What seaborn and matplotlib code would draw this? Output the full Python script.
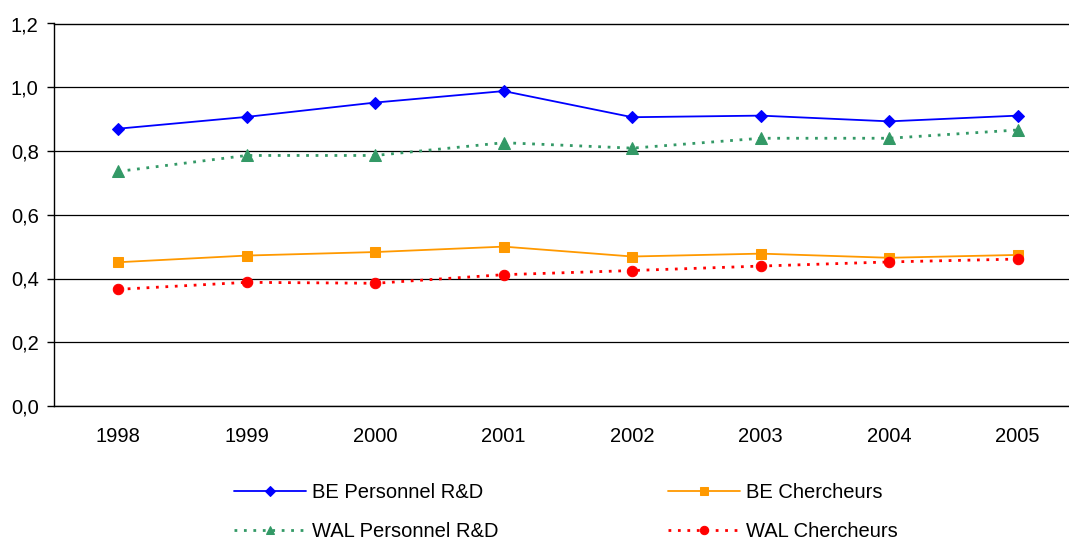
import numpy as np
import pandas as pd
import matplotlib
matplotlib.use("Agg")
import matplotlib.pyplot as plt
import seaborn as sns
from matplotlib.ticker import FuncFormatter, FixedLocator

# data
years = ["1998", "1999", "2000", "2001", "2002", "2003", "2004", "2005"]
be_personnel = [0.870, 0.907, 0.952, 0.988, 0.906, 0.911, 0.893, 0.911]
be_chercheurs = [0.451, 0.472, 0.483, 0.500, 0.469, 0.478, 0.465, 0.474]
wal_personnel = [0.736, 0.786, 0.786, 0.826, 0.809, 0.840, 0.840, 0.866]
wal_chercheurs = [0.366, 0.388, 0.385, 0.412, 0.425, 0.439, 0.452, 0.461]

series = {
    "BE Personnel R&D": be_personnel,
    "BE Chercheurs": be_chercheurs,
    "WAL Personnel R&D": wal_personnel,
    "WAL Chercheurs": wal_chercheurs,
}

rows = []
for name, vals in series.items():
    for i, v in enumerate(vals):
        rows.append({"serie": name, "pos": i, "valeur": v})
df = pd.DataFrame(rows)

sns.set_style("white")
plt.rcParams["font.family"] = ["Liberation Sans", "DejaVu Sans"]
plt.rcParams["font.size"] = 14.5
plt.rcParams["text.color"] = "black"
plt.rcParams["xtick.color"] = "black"
plt.rcParams["ytick.color"] = "black"

styles = {
    "BE Personnel R&D": dict(color="#0000FF", marker="D", ms=6.5, ls="-", lw=1.3),
    "BE Chercheurs": dict(color="#FF9900", marker="s", ms=7, ls="-", lw=1.3),
    "WAL Personnel R&D": dict(color="#339966", marker="^", ms=8, ls=(0, (1, 2.4)), lw=2),
    "WAL Chercheurs": dict(color="#FF0000", marker="o", ms=7.5, ls=(0, (1, 2.4)), lw=2),
}

fig = plt.figure(figsize=(10.69, 5.4), dpi=100)
ax = fig.add_axes([54 / 1069, 1 - 406 / 540, (1082 - 54) / 1069, (406 - 23.5) / 540])

for name in ["BE Personnel R&D", "BE Chercheurs", "WAL Personnel R&D", "WAL Chercheurs"]:
    st = styles[name]
    sub = df[df["serie"] == name]
    sns.lineplot(data=sub, x="pos", y="valeur", ax=ax, label=name,
                 color=st["color"], marker=st["marker"], markersize=st["ms"],
                 markeredgecolor=st["color"], linestyle=st["ls"],
                 linewidth=st["lw"], legend=False)

ax.set_xlim(-0.5, len(years) - 0.5)
ax.set_ylim(0, 1.2)
ax.set_yticks(np.arange(0, 1.21, 0.2))
ax.yaxis.set_major_formatter(FuncFormatter(lambda v, p: f"{v:.1f}".replace(".", ",")))
ax.set_xticks(range(len(years)))
ax.set_xticklabels(years)
ax.xaxis.set_minor_locator(FixedLocator(np.arange(-0.5, len(years), 1.0)))
ax.tick_params(axis="x", which="major", length=0, pad=15, labelcolor="black")
ax.tick_params(axis="x", which="minor", length=5, width=1, direction="out", color="black")
ax.tick_params(axis="y", length=5, width=1, direction="out", color="black", pad=6,
               left=True, labelcolor="black")
ax.set_xlabel("")
ax.set_ylabel("")

ax.yaxis.grid(True, color="black", linewidth=0.9)
ax.set_axisbelow(True)
for side in ["left", "bottom", "top"]:
    ax.spines[side].set_visible(True)
    ax.spines[side].set_color("black")
    ax.spines[side].set_linewidth(1)
ax.spines["right"].set_visible(False)

# legend fills column by column, so reorder to get BE on the first row
handles, labels = ax.get_legend_handles_labels()
order = [0, 2, 1, 3]
fig.legend([handles[i] for i in order], [labels[i] for i in order],
           ncol=2, loc="center",
           bbox_to_anchor=(566 / 1069, 1 - 512 / 540),
           frameon=False, handlelength=3.6, handletextpad=0.3,
           columnspacing=8.4, labelspacing=0.95, markerscale=0.8,
           fontsize=14.5)

fig.savefig("out.png", dpi=100)
